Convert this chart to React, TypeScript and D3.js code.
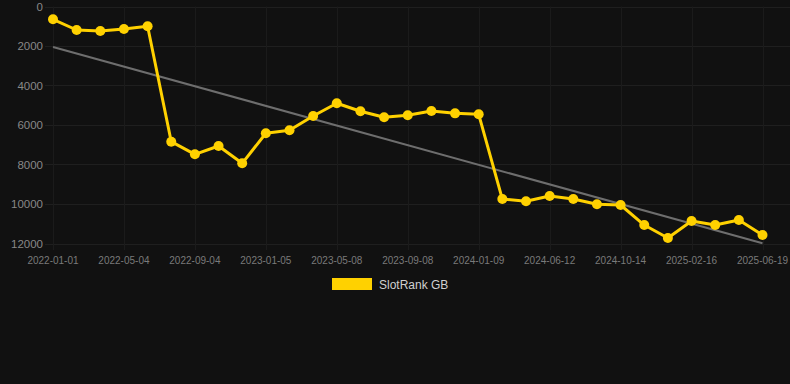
import React from "react";
import * as d3 from "d3";

const dates = [
  "2022-01-01", "2022-02-11", "2022-03-24", "2022-05-04", "2022-06-14", "2022-07-25",
  "2022-09-04", "2022-10-15", "2022-11-25", "2023-01-05", "2023-02-15", "2023-03-28",
  "2023-05-08", "2023-06-18", "2023-07-29", "2023-09-08", "2023-10-19", "2023-11-29",
  "2024-01-09", "2024-02-28", "2024-04-20", "2024-06-12", "2024-07-24", "2024-09-02",
  "2024-10-14", "2024-11-25", "2025-01-05", "2025-02-16", "2025-03-29", "2025-05-09",
  "2025-06-19",
];

const rankValues = [
  650, 1190, 1240, 1140, 1000, 6845, 7485, 7063, 7940, 6420, 6270, 5545,
  4900, 5306, 5610, 5510, 5290, 5410, 5460, 9750, 9865, 9595, 9750, 10015,
  10050, 11065, 11720, 10860, 11065, 10810, 11570,
];

const trendValues = [2050, 11990];

const yTicks = [0, 2000, 4000, 6000, 8000, 10000, 12000];

const seriesName = "SlotRank GB";

const W = 790;
const H = 384;

export default function App() {
  const x = d3.scalePoint<string>().domain(dates).range([53, 762.5]);
  const y = d3.scaleLinear().domain([0, 12000]).range([6.5, 243.5]);

  const line = d3
    .line<number>()
    .x((_, i) => x(dates[i]) as number)
    .y((d) => y(d));

  const labelDates = dates.filter((_, i) => i % 3 === 0);
  const font = "'Helvetica Neue', Helvetica, Arial, 'Liberation Sans', sans-serif";

  return (
    <div style={{ position: "fixed", left: 0, top: 0, width: W, height: H, background: "#111111" }}>
      <svg width={W} height={H} style={{ display: "block" }} fontFamily={font}>
        <rect x={0} y={0} width={W} height={H} fill="#111111" />
        {/* horizontal grid */}
        {yTicks.map((t) => (
          <line key={"h" + t} x1={45} x2={W} y1={Math.round(y(t)) + 0.5} y2={Math.round(y(t)) + 0.5}
            stroke="#1f1f1f" strokeWidth={1} />
        ))}
        {/* vertical grid */}
        {labelDates.map((d) => (
          <line key={"v" + d} x1={Math.round(x(d) as number) + 0.5} x2={Math.round(x(d) as number) + 0.5}
            y1={y(0)} y2={250} stroke="#1b1b1b" strokeWidth={1} />
        ))}
        {/* y labels */}
        {yTicks.map((t) => (
          <text key={"yl" + t} x={43} y={y(t)} dy="0.35em" textAnchor="end" fontSize={11.5} fill="#888888">
            {t}
          </text>
        ))}
        {/* x labels */}
        {labelDates.map((d) => (
          <text key={"xl" + d} x={x(d) as number} y={260} dy="0.35em" textAnchor="middle" fontSize={10} fill="#7a7a7a">
            {d}
          </text>
        ))}
        {/* trend line */}
        <line x1={x(dates[0]) as number} y1={y(trendValues[0])}
          x2={x(dates[dates.length - 1]) as number} y2={y(trendValues[1])}
          stroke="#6e6e6e" strokeWidth={2} />
        {/* series line */}
        <path d={line(rankValues) as string} fill="none" stroke="#FFD100" strokeWidth={3} strokeLinejoin="round" />
        {rankValues.map((v, i) => (
          <circle key={"c" + i} cx={x(dates[i]) as number} cy={y(v)} r={5} fill="#FFD100" />
        ))}
        {/* legend */}
        <rect x={332} y={278} width={40} height={12} fill="#FFD100" />
        <text x={379} y={284.5} dy="0.35em" fontSize={12} fill="#d0d0d0">{seriesName}</text>
      </svg>
    </div>
  );
}
